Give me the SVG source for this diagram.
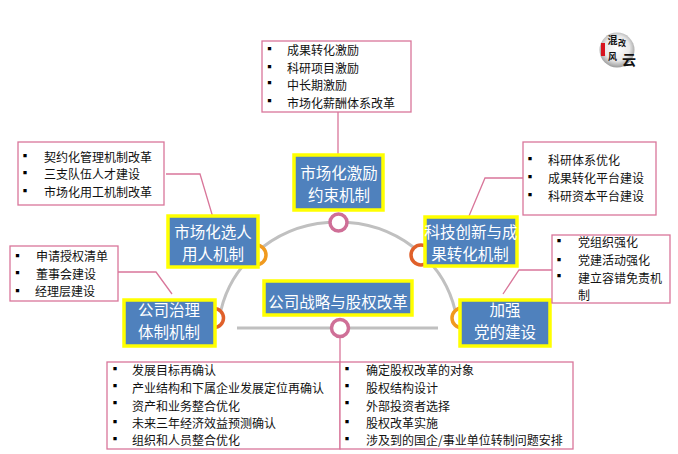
<svg xmlns="http://www.w3.org/2000/svg" width="678" height="454" viewBox="0 0 678 454">
<defs>
<radialGradient id="seal" cx="0.5" cy="0.45" r="0.55"><stop offset="0" stop-color="#ffffff"/><stop offset="0.65" stop-color="#e8e8e8"/><stop offset="1" stop-color="#9a9a9a"/></radialGradient>
</defs>
<style>
text{font-family:"Noto Sans CJK SC","Liberation Sans",sans-serif}
.box{fill:#fff;stroke:#d9769a;stroke-width:1.3}
.node{fill:#4f81bd;stroke:#ffff00;stroke-width:3.5}
.nt{fill:#fff;font-size:15.5px;text-anchor:middle}
.lt{fill:#111;font-size:12px}
.bu{fill:#000;font-size:12px;text-anchor:middle;font-weight:700}
.lead{fill:none;stroke:#d9769a;stroke-width:1.3}
.arc{fill:none;stroke:#c0c0c0;stroke-width:3}
.ring{fill:#fff;stroke-width:3.5}
.sl{fill:#111;font-weight:700;text-anchor:middle}
</style>
<g id="connectors">
<path class="arc" d="M221 310A120 113 0 0 1 455 310"/>
<path class="arc" d="M237 328H438"/>
<path class="lead" d="M166 174H200L214 221"/>
<path class="lead" d="M118 272H156L172 294"/>
<path class="lead" d="M338 112V155"/>
<path class="lead" d="M523 178H485L469 216"/>
<path class="lead" d="M552 270H519L503 294"/>
<path class="lead" d="M340 338V362"/>
</g>
<g id="rings">
<circle class="ring" cx="338.500" cy="222.500" r="8.500" stroke="#cf6f97"/>
<circle class="ring" cx="256" cy="255" r="10" stroke="#f09a1f"/>
<circle class="ring" cx="421" cy="255" r="10" stroke="#e0602a"/>
<circle class="ring" cx="214" cy="318" r="9.500" stroke="#e0602a"/>
<circle class="ring" cx="462" cy="318" r="10" stroke="#f09a1f"/>
<circle class="ring" cx="340" cy="328" r="8.500" stroke="#cf6f97"/>
</g>
<g id="node-market-incentive"><rect class="node" x="294" y="155" width="89" height="55"/><text class="nt" x="339" y="179">市场化激励</text><text class="nt" x="339" y="201">约束机制</text></g>
<g id="node-market-hire"><rect class="node" x="168" y="216" width="90" height="51"/><text class="nt" x="213" y="238">市场化选人</text><text class="nt" x="213" y="260">用人机制</text></g>
<g id="node-tech"><rect class="node" x="425" y="217" width="92" height="49"/><text class="nt" x="471" y="238">科技创新与成</text><text class="nt" x="470" y="260">果转化机制</text></g>
<g id="node-governance"><rect class="node" x="124" y="300" width="91" height="46"/><text class="nt" x="169" y="316">公司治理</text><text class="nt" x="169" y="338">体制机制</text></g>
<g id="node-strategy"><rect class="node" x="264" y="281" width="148" height="34"/><text class="nt" x="338" y="308">公司战略与股权改革</text></g>
<g id="node-party"><rect class="node" x="460" y="300" width="90" height="46"/><text class="nt" x="505" y="316">加强</text><text class="nt" x="505" y="338">党的建设</text></g>
<g id="list-top"><rect class="box" x="262" y="41" width="149" height="71"/>
<text class="bu" x="269.500" y="54">▪</text><text class="bu" x="269.500" y="72">▪</text><text class="bu" x="269.500" y="88">▪</text><text class="bu" x="269.500" y="106">▪</text>
<text class="lt" x="287" y="55">成果转化激励</text><text class="lt" x="287" y="73">科研项目激励</text><text class="lt" x="287" y="90">中长期激励</text><text class="lt" x="287" y="108">市场化薪酬体系改革</text></g>
<g id="list-hire"><rect class="box" x="18" y="142" width="146" height="63"/>
<text class="bu" x="25" y="161">▪</text><text class="bu" x="25" y="178">▪</text><text class="bu" x="25" y="196">▪</text>
<text class="lt" x="44" y="162">契约化管理机制改革</text><text class="lt" x="44" y="179">三支队伍人才建设</text><text class="lt" x="44" y="197">市场化用工机制改革</text></g>
<g id="list-gov"><rect class="box" x="10" y="246" width="108" height="55"/>
<text class="bu" x="17.500" y="261">▪</text><text class="bu" x="17.500" y="278">▪</text><text class="bu" x="17.500" y="296">▪</text>
<text class="lt" x="36" y="261">申请授权清单</text><text class="lt" x="36" y="279">董事会建设</text><text class="lt" x="35" y="296">经理层建设</text></g>
<g id="list-tech"><rect class="box" x="523" y="142" width="133" height="73"/>
<text class="bu" x="530" y="164">▪</text><text class="bu" x="530" y="182">▪</text><text class="bu" x="530" y="200">▪</text>
<text class="lt" x="548" y="165">科研体系优化</text><text class="lt" x="548" y="183">成果转化平台建设</text><text class="lt" x="548" y="201">科研资本平台建设</text></g>
<g id="list-party"><rect class="box" x="552" y="235" width="118" height="68"/>
<text class="bu" x="559" y="246">▪</text><text class="bu" x="559" y="265">▪</text><text class="bu" x="559" y="281">▪</text>
<text class="lt" x="578" y="247">党组织强化</text><text class="lt" x="578" y="265">党建活动强化</text><text class="lt" x="578" y="283">建立容错免责机</text><text class="lt" x="578" y="300">制</text></g>
<g id="list-bottom-left"><rect class="box" x="107" y="362" width="233" height="87"/>
<text class="bu" x="115" y="374">▪</text><text class="bu" x="115" y="391">▪</text><text class="bu" x="115" y="408">▪</text><text class="bu" x="115" y="427">▪</text><text class="bu" x="115" y="444">▪</text>
<text class="lt" x="132" y="375">发展目标再确认</text><text class="lt" x="132" y="393">产业结构和下属企业发展定位再确认</text><text class="lt" x="132" y="411">资产和业务整合优化</text><text class="lt" x="132" y="428">未来三年经济效益预测确认</text><text class="lt" x="132" y="445">组织和人员整合优化</text></g>
<g id="list-bottom-right"><rect class="box" x="340" y="362" width="233" height="87"/>
<text class="bu" x="347" y="374">▪</text><text class="bu" x="347" y="391">▪</text><text class="bu" x="347" y="408">▪</text><text class="bu" x="347" y="427">▪</text><text class="bu" x="347" y="444">▪</text>
<text class="lt" x="366" y="375">确定股权改革的对象</text><text class="lt" x="366" y="393">股权结构设计</text><text class="lt" x="366" y="411">外部投资者选择</text><text class="lt" x="366" y="428">股权改革实施</text><text class="lt" x="366" y="445">涉及到的国企/事业单位转制问题安排</text></g>
<g id="seal"><circle cx="617" cy="50" r="17.500" fill="url(#seal)"/><rect x="601" y="43" width="4" height="13" fill="#d8141e"/>
<text class="sl" x="612.500" y="44" font-size="10">混</text><text class="sl" x="622" y="46" font-size="8">改</text><text class="sl" x="612.500" y="60" font-size="9">风</text><text class="sl" x="629" y="65" font-size="14">云</text></g>
</svg>
